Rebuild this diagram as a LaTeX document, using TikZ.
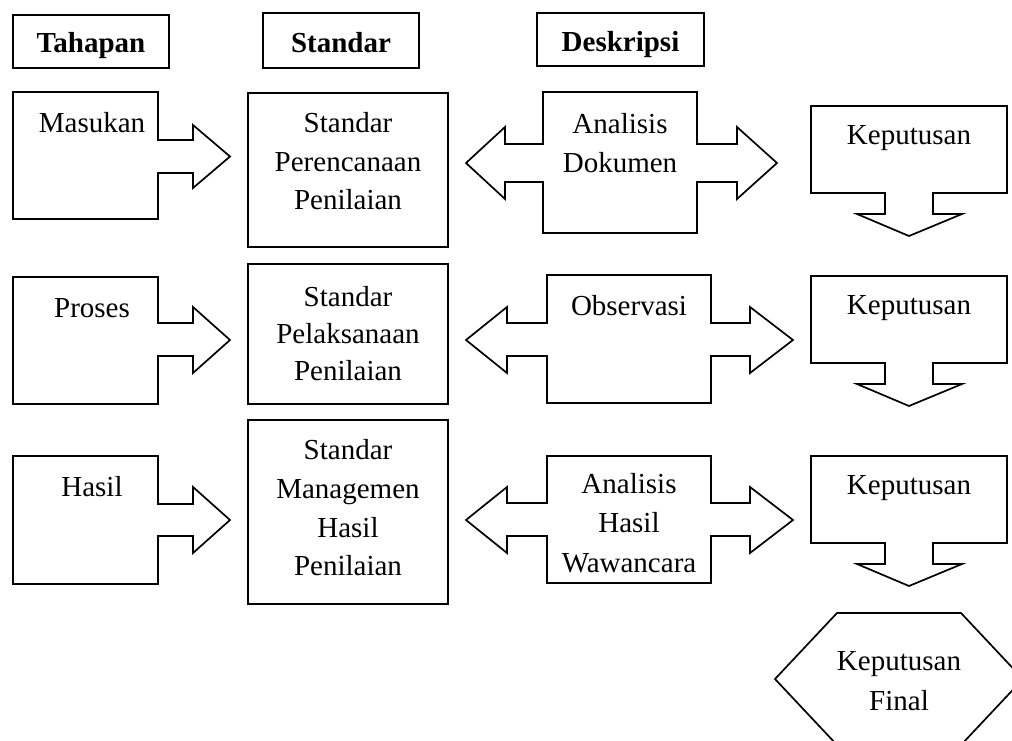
\documentclass[tikz,border=0pt]{standalone}
\usepackage{fontspec}
\setmainfont{Liberation Serif}
\begin{document}
\begin{tikzpicture}[x=1pt,y=-1pt,line join=miter,
  shp/.style={draw=black,line width=1.7pt,fill=white},
  boxn/.style={shp,rectangle,inner sep=0pt},
  lbl/.style={anchor=base,inner sep=0pt,font=\fontsize{29}{34}\selectfont},
  hlbl/.style={anchor=base,inner sep=0pt,font=\fontsize{29}{34}\selectfont\bfseries}]
\useasboundingbox (0,0) rectangle (1012,740);

% headers
\node[boxn,minimum width=156pt,minimum height=53pt] (h1) at (91,41.5) {};
\node[hlbl] (h1t) at (91,52) {Tahapan};
\node[boxn,minimum width=156pt,minimum height=55pt] (h2) at (341,40.5) {};
\node[hlbl] (h2t) at (341,52) {Standar};
\node[boxn,minimum width=167pt,minimum height=53pt] (h3) at (620.5,39.5) {};
\node[hlbl] (h3t) at (620.5,51) {Deskripsi};

% right-arrow callouts (column 1)
\draw[shp] (13,92) -- (158,92) -- (158,140) -- (193,140) -- (193,125) -- (230,156.5)
  -- (193,188) -- (193,173) -- (158,173) -- (158,219) -- (13,219) -- cycle;
\node[lbl] (m1) at (92,132) {Masukan};
\draw[shp] (13,277) -- (158,277) -- (158,323) -- (193,323) -- (193,307) -- (230,340)
  -- (193,373) -- (193,356) -- (158,356) -- (158,404) -- (13,404) -- cycle;
\node[lbl] (m2) at (92,317) {Proses};
\draw[shp] (13,456) -- (158,456) -- (158,504) -- (193,504) -- (193,487) -- (230,520)
  -- (193,553) -- (193,536) -- (158,536) -- (158,584) -- (13,584) -- cycle;
\node[lbl] (m3) at (92,496) {Hasil};

% standard boxes (column 2)
\node[boxn,minimum width=200pt,minimum height=154pt] (s1) at (348,170) {};
\node[lbl] (s1a) at (348,132.5) {Standar};
\node[lbl] (s1b) at (348,171) {Perencanaan};
\node[lbl] (s1c) at (348,209.5) {Penilaian};
\node[boxn,minimum width=200pt,minimum height=140pt] (s2) at (348,334) {};
\node[lbl] (s2a) at (348,306) {Standar};
\node[lbl] (s2b) at (348,343) {Pelaksanaan};
\node[lbl] (s2c) at (348,380) {Penilaian};
\node[boxn,minimum width=200pt,minimum height=184pt] (s3) at (348,512) {};
\node[lbl] (s3a) at (348,459.5) {Standar};
\node[lbl] (s3b) at (348,498) {Managemen};
\node[lbl] (s3c) at (348,537.5) {Hasil};
\node[lbl] (s3d) at (348,575.5) {Penilaian};

% double-arrow callouts (column 3)
\draw[shp] (543,92) -- (697,92) -- (697,144) -- (737,144) -- (737,127) -- (777,163)
  -- (737,199) -- (737,182) -- (697,182) -- (697,233) -- (543,233) -- (543,182)
  -- (505,182) -- (505,199) -- (466,163) -- (505,127) -- (505,144) -- (543,144) -- cycle;
\node[lbl] (d1a) at (620,133) {Analisis};
\node[lbl] (d1b) at (620,172) {Dokumen};
\draw[shp] (547,275) -- (711,275) -- (711,323) -- (750,323) -- (750,307) -- (793,340)
  -- (750,373) -- (750,356) -- (711,356) -- (711,403) -- (547,403) -- (547,356)
  -- (507,356) -- (507,373) -- (466,340) -- (507,307) -- (507,323) -- (547,323) -- cycle;
\node[lbl] (d2a) at (629,315) {Observasi};
\draw[shp] (547,456) -- (711,456) -- (711,503) -- (750,503) -- (750,487) -- (793,520)
  -- (750,553) -- (750,536) -- (711,536) -- (711,583) -- (547,583) -- (547,536)
  -- (507,536) -- (507,553) -- (466,520) -- (507,487) -- (507,503) -- (547,503) -- cycle;
\node[lbl] (d3a) at (629,493) {Analisis};
\node[lbl] (d3b) at (629,532) {Hasil};
\node[lbl] (d3c) at (629,572) {Wawancara};

% down-arrow callouts (column 4)
\draw[shp] (811,106) -- (1007,106) -- (1007,193) -- (933,193) -- (933,214) -- (962,214)
  -- (909,236) -- (857,214) -- (885,214) -- (885,193) -- (811,193) -- cycle;
\node[lbl] (k1) at (909,144) {Keputusan};
\draw[shp] (811,276) -- (1007,276) -- (1007,363) -- (933,363) -- (933,384) -- (962,384)
  -- (909,406) -- (857,384) -- (885,384) -- (885,363) -- (811,363) -- cycle;
\node[lbl] (k2) at (909,314) {Keputusan};
\draw[shp] (811,456) -- (1007,456) -- (1007,543) -- (933,543) -- (933,564) -- (962,564)
  -- (909,586) -- (857,564) -- (885,564) -- (885,543) -- (811,543) -- cycle;
\node[lbl] (k3) at (909,494) {Keputusan};

% final hexagon
\begin{scope}
\clip (0,0) rectangle (1012,740);
\draw[shp] (837,613) -- (961,613) -- (1023,679) -- (961,745) -- (837,745) -- (775,679) -- cycle;
\end{scope}
\node[lbl] (fa) at (899,670) {Keputusan};
\node[lbl] (fb) at (899,710) {Final};
\end{tikzpicture}
\end{document}
